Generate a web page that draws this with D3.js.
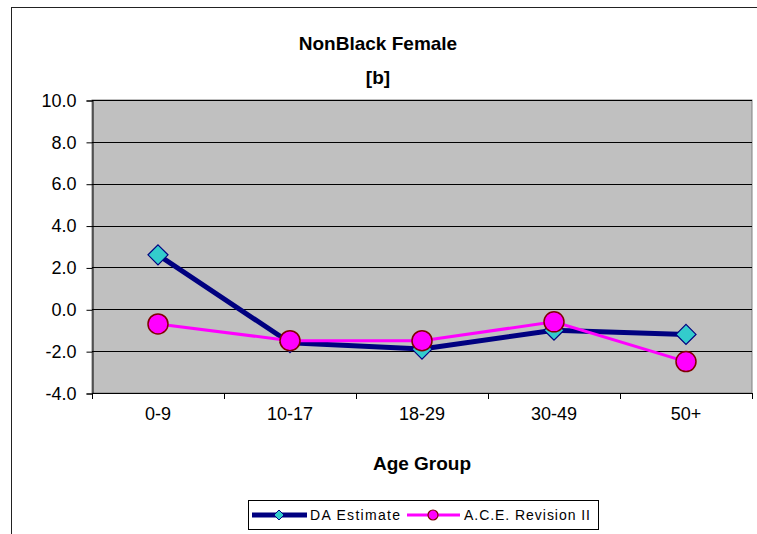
<!DOCTYPE html>
<html>
<head>
<meta charset="utf-8">
<script src="https://cdn.jsdelivr.net/npm/d3@7"></script>
<style>
  html, body { margin: 0; padding: 0; background: #fff; }
  svg { display: block; }
  text { font-family: "Liberation Sans", Arial, sans-serif; }
</style>
</head>
<body>
<svg id="chart" width="757" height="534"></svg>
<script>
const categories = ["0-9", "10-17", "18-29", "30-49", "50+"];
const daEstimate = [2.6, -1.6, -1.9, -1.0, -1.2];
const aceRevision = [-0.7, -1.5, -1.5, -0.6, -2.5];
const yTicks = [-4, -2, 0, 2, 4, 6, 8, 10];
const seriesNames = ["DA Estimate", "A.C.E. Revision II"];

const svg = d3.select("#chart");

// outer chart border
svg.append("rect").attr("x", 11.5).attr("y", 7.5).attr("width", 760).attr("height", 540)
  .attr("fill", "#fff").attr("stroke", "#222").attr("stroke-width", 1);

const plot = { left: 92, right: 752, top: 100, bottom: 393 };

const x = d3.scaleBand().domain(categories).range([plot.left, plot.right]);
const y = d3.scaleLinear().domain([-4, 10]).range([plot.bottom, plot.top]);

// plot background
svg.append("rect").attr("x", plot.left).attr("y", plot.top)
  .attr("width", plot.right - plot.left).attr("height", plot.bottom - plot.top)
  .attr("fill", "#C0C0C0").attr("stroke", "#808080").attr("stroke-width", 1);

// gridlines
svg.append("g").selectAll("line").data(yTicks.filter(t => t !== -4)).join("line")
  .attr("x1", plot.left).attr("x2", plot.right)
  .attr("y1", d => Math.round(y(d)) + 0.5).attr("y2", d => Math.round(y(d)) + 0.5)
  .attr("stroke", "#000").attr("stroke-width", 1);

// y axis
const yAxis = d3.axisLeft(y).tickValues(yTicks).tickFormat(d => d.toFixed(1)).tickSize(6).tickPadding(10);
const gy = svg.append("g").attr("transform", `translate(${plot.left + 0.5},0.5)`).call(yAxis);
gy.attr("font-size", null).attr("font-family", null);
gy.select(".domain").attr("stroke", "#000");
gy.selectAll(".tick line").attr("stroke", "#000");
gy.selectAll("text").style("font-size", "18px").attr("fill", "#000");

// x axis: ticks at band boundaries
const boundaries = categories.map(c => x(c)).concat([plot.right]);
const gx = svg.append("g");
gx.append("line").attr("x1", plot.left).attr("x2", plot.right)
  .attr("y1", plot.bottom + 0.5).attr("y2", plot.bottom + 0.5).attr("stroke", "#000");
gx.selectAll("line.tk").data(boundaries).join("line").attr("class", "tk")
  .attr("x1", d => Math.round(d) + 0.5).attr("x2", d => Math.round(d) + 0.5)
  .attr("y1", plot.bottom).attr("y2", plot.bottom + 6).attr("stroke", "#000");
gx.selectAll("text").data(categories).join("text")
  .attr("x", d => x(d) + x.bandwidth() / 2).attr("y", 420)
  .attr("text-anchor", "middle").style("font-size", "18px").attr("fill", "#000").text(d => d);

// titles
svg.append("text").attr("x", 378).attr("y", 50).attr("text-anchor", "middle")
  .style("font-size", "19px").attr("font-weight", "bold").text("NonBlack Female");
svg.append("text").attr("x", 378).attr("y", 84).attr("text-anchor", "middle")
  .style("font-size", "19px").attr("font-weight", "bold").text("[b]");
svg.append("text").attr("x", (plot.left + plot.right) / 2).attr("y", 470).attr("text-anchor", "middle")
  .style("font-size", "19px").attr("font-weight", "bold").text("Age Group");

const cx = d => x(d) + x.bandwidth() / 2;
const line = d3.line().x(d => cx(d.c)).y(d => y(d.v));
const daData = categories.map((c, i) => ({ c, v: daEstimate[i] }));
const aceData = categories.map((c, i) => ({ c, v: aceRevision[i] }));

const diamond = (s) => `M0,${-s}L${s},0L0,${s}L${-s},0Z`;

// DA series
svg.append("path").datum(daData).attr("d", line).attr("fill", "none")
  .attr("stroke", "#000080").attr("stroke-width", 5).attr("stroke-linejoin", "round");
svg.append("g").selectAll("path").data(daData).join("path")
  .attr("transform", d => `translate(${cx(d.c)},${y(d.v)})`).attr("d", diamond(10))
  .attr("fill", "#33CCCC").attr("stroke", "#000080").attr("stroke-width", 1.2);

// ACE series
svg.append("path").datum(aceData).attr("d", line).attr("fill", "none")
  .attr("stroke", "#FF00FF").attr("stroke-width", 3);
svg.append("g").selectAll("circle").data(aceData).join("circle")
  .attr("cx", d => cx(d.c)).attr("cy", d => y(d.v)).attr("r", 10)
  .attr("fill", "#FF00FF").attr("stroke", "#800000").attr("stroke-width", 1.5);

// legend
const lg = svg.append("g");
lg.append("rect").attr("x", 248.5).attr("y", 500.5).attr("width", 350).attr("height", 29)
  .attr("fill", "#fff").attr("stroke", "#000").attr("stroke-width", 1);
const ly = 515;
lg.append("line").attr("x1", 252).attr("x2", 307).attr("y1", ly).attr("y2", ly)
  .attr("stroke", "#000080").attr("stroke-width", 5);
lg.append("path").attr("transform", `translate(279,${ly})`).attr("d", diamond(5))
  .attr("fill", "#33CCCC").attr("stroke", "#000080").attr("stroke-width", 1);
lg.append("text").attr("x", 310).attr("y", ly + 5).style("font-size", "14px")
  .attr("textLength", 90).attr("lengthAdjust", "spacing").text(seriesNames[0]);
lg.append("line").attr("x1", 407).attr("x2", 460).attr("y1", ly).attr("y2", ly)
  .attr("stroke", "#FF00FF").attr("stroke-width", 3);
lg.append("circle").attr("cx", 433).attr("cy", ly).attr("r", 5)
  .attr("fill", "#FF00FF").attr("stroke", "#800000").attr("stroke-width", 1.2);
lg.append("text").attr("x", 464).attr("y", ly + 5).style("font-size", "14px")
  .attr("textLength", 126).attr("lengthAdjust", "spacing").text(seriesNames[1]);
</script>
</body>
</html>
